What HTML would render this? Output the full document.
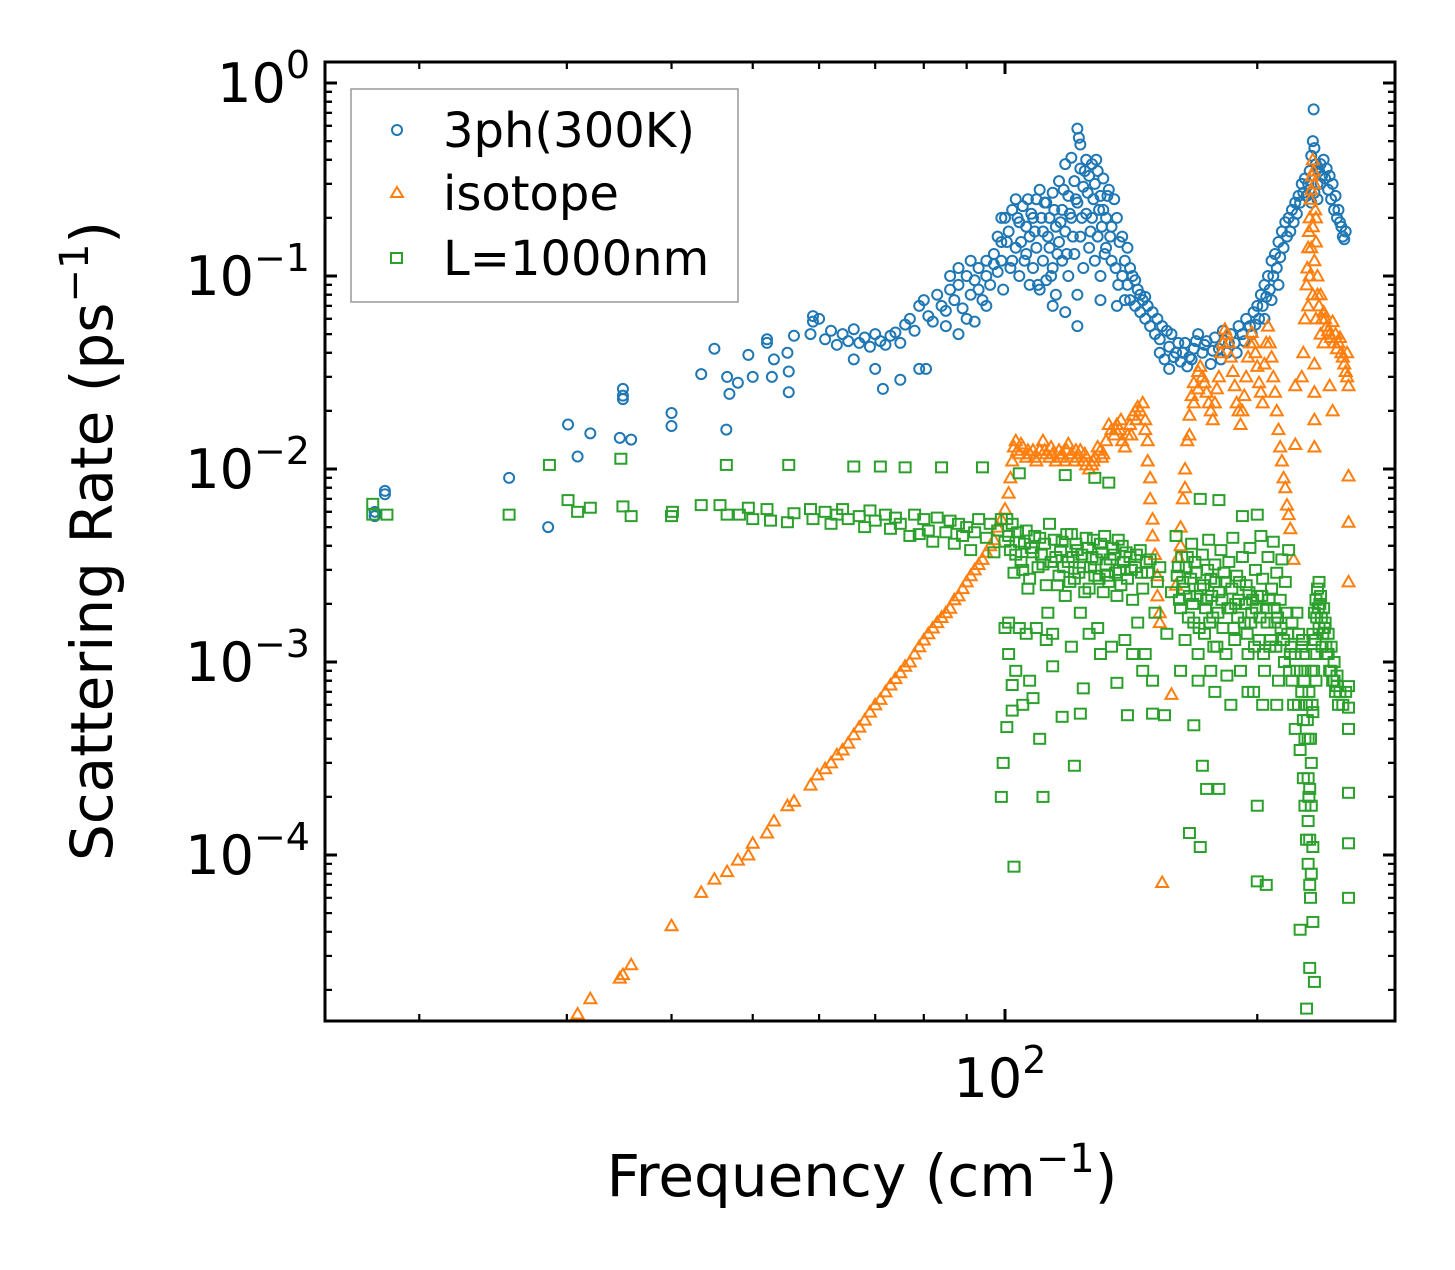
<!DOCTYPE html>
<html><head><meta charset="utf-8"><title>Scattering Rate vs Frequency</title>
<style>
html,body{margin:0;padding:0;background:#fff;}
svg{display:block;font-family:"DejaVu Sans","Liberation Sans",sans-serif;}
</style></head>
<body>
<svg id="chart" width="1455" height="1270" viewBox="0 0 1455 1270" xmlns="http://www.w3.org/2000/svg">
<rect x="0" y="0" width="1455" height="1270" fill="#fff"/>
<g id="marks"></g>
<g id="ticks"></g>
<rect x="325" y="62" width="1070" height="959" fill="none" stroke="#000" stroke-width="3"/>
<g id="ylabels" font-size="54" text-anchor="end" fill="#000"></g>
<text x="1000" y="1097" font-size="54" text-anchor="middle">10<tspan font-size="38" dy="-24">2</tspan></text>
<text x="862" y="1196" font-size="58" text-anchor="middle">Frequency (cm<tspan font-size="40" dy="-24">−1</tspan><tspan dy="24">)</tspan></text>
<text transform="translate(112,541) rotate(-90)" font-size="58" text-anchor="middle">Scattering Rate (ps<tspan font-size="40" dy="-24">−1</tspan><tspan dy="24">)</tspan></text>
<g>
<rect x="351" y="89" width="387" height="213" fill="#fff" fill-opacity="0.8" stroke="#999" stroke-width="1.5"/>
<circle cx="397" cy="130" r="5" fill="none" stroke="#1f77b4" stroke-width="2"/>
<text x="443" y="147" font-size="48">3ph(300K)</text>
<polygon points="397,187 403,197 391,197" fill="none" stroke="#ff7f0e" stroke-width="2"/>
<text x="443" y="210" font-size="48">isotope</text>
<rect x="391" y="253" width="11" height="10" fill="none" stroke="#2ca02c" stroke-width="2"/>
<text x="443" y="275" font-size="48">L=1000nm</text>
</g>
</svg>
<script>
// ---- data (frequency cm^-1, rate ps^-1) ----
const yTickExponents = [0, -1, -2, -3, -4];
const xMinorTicks = [20, 30, 40, 50, 60, 70, 80, 90, 200];
const xMajorTicks = [100];

const blue3ph = [
[17.7,0.006],[17.7,0.0057],[18.2,0.0077],[18.2,0.0074],[25.6,0.009],[28.5,0.005],
[30.1,0.017],[30.9,0.0116],[32,0.0153],[34.7,0.0145],[35,0.026],[35,0.024],[35,0.023],[35.8,0.0142],
[40,0.0195],[40,0.0167],[43.4,0.031],[45,0.042],[46.6,0.03],[46.9,0.0245],[46.5,0.016],[48,0.028],
[49.4,0.039],[50,0.03],[52,0.045],[52,0.047],[52.7,0.03],[53,0.037],[55,0.04],[55.2,0.032],[55.2,0.025],
[56,0.049],[58.6,0.05],[59,0.062],[59,0.058],
[61,0.047],[62,0.052],[63,0.044],[64,0.05],[65,0.046],[66,0.053],[67,0.045],[68,0.048],[69,0.043],[70,0.05],
[71,0.046],[72,0.044],[73,0.049],[74,0.051],[75,0.045],[76,0.056],[77,0.06],[78,0.052],[79,0.07],[80,0.075],
[81,0.062],[82,0.058],[83,0.08],[84,0.07],[85,0.066],[86,0.085],[87,0.075],[88,0.09],[89,0.068],[90,0.1],
[91,0.08],[92,0.095],[93,0.11],[94,0.075],[95,0.12],[96,0.09],[97,0.13],[98,0.105],[99,0.15],[99.5,0.085],
[66,0.037],[70,0.033],[71.5,0.026],[75,0.029],[79,0.033],[80.5,0.033],[60,0.06],[85,0.055],[90,0.06],[95,0.07],[88,0.05],[92,0.058],
[86,0.1],[88,0.11],[91,0.12],[93,0.085],[95,0.1],[97,0.115],[98,0.16],[99,0.2],[99,0.12],
[100,0.2],[101,0.17],[102,0.22],[102,0.12],[103,0.25],[103,0.14],[104,0.1],[104,0.19],[105,0.23],[106,0.13],
[106,0.18],[107,0.16],[107,0.09],[108,0.2],[108,0.11],[109,0.25],[109,0.14],[110,0.28],[110,0.085],[111,0.17],
[111,0.12],[112,0.24],[112,0.095],[113,0.2],[113,0.14],[114,0.27],[114,0.11],[115,0.18],[115,0.08],[116,0.31],
[116,0.15],[117,0.22],[117,0.12],[118,0.38],[118,0.17],[119,0.26],[119,0.1],[120,0.41],[120,0.2],[121,0.31],
[121,0.13],[122,0.58],[122.5,0.52],[123,0.48],[122,0.24],[122,0.08],[123,0.36],[123,0.16],[124,0.29],[124,0.11],
[125,0.4],[125,0.21],[126,0.33],[126,0.14],[127,0.38],[127,0.2],[128,0.3],[128,0.12],[129,0.35],[129,0.16],
[130,0.26],[130,0.1],[131,0.32],[131,0.22],[132,0.2],[132,0.14],[133,0.28],[134,0.18],[134,0.12],[135,0.25],
[136,0.2],[137,0.15],[138,0.16],[139,0.12],[140,0.14],[141,0.11],[142,0.1],[143,0.095],[144,0.085],[145,0.08],
[146,0.075],[147,0.078],[148,0.07],[150,0.065],[152,0.06],[154,0.055],[156,0.052],[158,0.05],[122,0.055],
[118,0.065],[114,0.07],[139,0.075],[136,0.07],[130,0.075],
[100.5,0.15],[101.5,0.11],[103.5,0.2],[104.5,0.15],[105.5,0.12],[106.5,0.25],[107.5,0.21],[108.5,0.17],[109.5,0.09],
[110.5,0.2],[111.5,0.24],[112.5,0.16],[113.5,0.1],[114.5,0.22],[115.5,0.13],[116.5,0.19],[117.5,0.28],[118.5,0.13],
[119.5,0.21],[120.5,0.16],[121.5,0.25],[123.5,0.2],[124.5,0.35],[125.5,0.27],[126.5,0.17],[127.5,0.25],[128.5,0.4],
[129.5,0.22],[130.5,0.18],[131.5,0.13],[132.5,0.26],[133.5,0.16],[135.5,0.11],[136.5,0.09],[138,0.1],[140,0.09],
[141,0.075],[143,0.07],[145,0.065],[147,0.06],[149,0.055],[151,0.05],[153,0.047],[157,0.043],[159,0.038],
[153,0.04],[155,0.037],[157,0.033],[160,0.04],[162,0.036],[164,0.045],[165,0.034],[166,0.038],[168,0.042],
[170,0.05],[172,0.04],[174,0.046],[176,0.035],[178,0.048],[180,0.042],[182,0.052],[184,0.04],[186,0.05],
[188,0.045],[190,0.055],[192,0.05],[194,0.06],[196,0.055],[198,0.065],[200,0.07],[202,0.08],[204,0.09],
[161,0.045],[163,0.04],[167,0.037],[169,0.046],[173,0.044],[177,0.041],[181,0.037],[185,0.045],[189,0.04],
[193,0.046],[197,0.05],[199,0.056],[201,0.06],[203,0.07],[205,0.078],[207,0.085],[209,0.1],[211,0.11],
[213,0.125],[215,0.14],[217,0.16],[219,0.17],[221,0.19],[223,0.21],[225,0.24],[227,0.27],[229,0.26],[231,0.28],
[204,0.06],[206,0.1],[208,0.12],[208,0.075],[210,0.13],[212,0.15],[212,0.09],[214,0.17],[216,0.19],[218,0.2],
[220,0.22],[222,0.24],[224,0.26],[226,0.3],[228,0.32],[230,0.3],[231,0.35],[232,0.42],[233,0.5],[233.5,0.73],
[234,0.46],[235,0.38],[236,0.3],[232,0.24],[234,0.27],[237,0.35],[238,0.38],[240,0.4],[242,0.36],[244,0.33],
[246,0.3],[248,0.26],[250,0.22],[252,0.18],[253,0.16],[238,0.3],[241,0.32],[245,0.25],[249,0.2],
[236,0.25],[239,0.33],[243,0.28],[247,0.22],[251,0.19],[254,0.155],[255,0.17],[236,0.36]
];

const orangeIsotope = [
[30.9,1.5e-5],[32,1.8e-5],[34.7,2.3e-5],[35,2.4e-5],[35.8,2.7e-5],[40,4.3e-5],[43.4,6.4e-5],[45,7.5e-5],
[46.6,8.2e-5],[48,9.4e-5],[49.4,1.0e-4],[50,1.15e-4],[52,1.3e-4],[53,1.5e-4],[55,1.8e-4],[56,1.9e-4],
[58.6,2.3e-4],[59.7,2.6e-4],
[61,0.00028],[62,0.0003],[63,0.00033],[64,0.00035],[65,0.00038],[66,0.00042],[67,0.00046],[68,0.0005],
[69,0.00055],[70,0.0006],[71,0.00064],[72,0.0007],[73,0.00076],[74,0.00082],[75,0.00088],[76,0.00095],
[77,0.001],[78,0.0011],[79,0.0012],[80,0.0013],[81,0.0014],[82,0.0015],[83,0.0016],[84,0.0017],[85,0.0018],
[86,0.0019],[87,0.0021],[88,0.0022],[89,0.0024],[90,0.0026],[91,0.0028],[92,0.003],[93,0.0032],[94,0.0034],
[95,0.0037],[96,0.004],[97,0.0043],[98,0.005],[99,0.0055],
[100,0.0062],[101,0.0075],[101.5,0.009],[102,0.011],[102.5,0.013],[103,0.014],[104,0.012],[105,0.013],
[106,0.0115],[107,0.012],[108,0.0125],[109,0.011],[110,0.0125],[111,0.014],[112,0.012],[113,0.0115],
[114,0.012],[115,0.011],[116,0.0125],[117,0.012],[118,0.011],[119,0.0135],[120,0.012],[121,0.011],
[122,0.0115],[123,0.0125],[124,0.011],[125,0.0105],[126,0.01],[127,0.0105],[128,0.0115],[129,0.013],
[130,0.0125],[131,0.012],[132,0.014],[133,0.017],[134,0.016],[135,0.015],[136,0.017],[137,0.016],
[138,0.014],[139,0.013],[140,0.015],[141,0.017],[142,0.019],[143,0.02],[144,0.021],[146,0.022],
[103.5,0.0125],[104.5,0.0135],[106.5,0.0125],[108.5,0.0115],[111.5,0.0125],[113.5,0.013],[116.5,0.0115],
[118.5,0.0125],[121.5,0.0125],[124.5,0.012],[127.5,0.011],[130.5,0.0115],[135.5,0.016],[137.5,0.018],
[141.5,0.015],[143.5,0.018],[145,0.02],[147,0.016],
[147,0.018],[148,0.014],[148,0.011],[149,0.009],[149,0.007],[150,0.0055],[150,0.0045],[151,0.0036],
[152,0.0028],[152,0.0022],[153,0.0018],[153,0.0016],[154,7.2e-5],[158,0.00068],
[160,0.0025],[161,0.0035],[162,0.005],[163,0.007],[164,0.01],[165,0.014],[166,0.019],[167,0.024],
[168,0.028],[170,0.032],[171,0.034],[173,0.028],[175,0.022],[177,0.018],[179,0.026],[181,0.04],[183,0.053],
[185,0.045],[187,0.032],[189,0.022],[191,0.017],[193,0.024],[195,0.038],[197,0.051],[199,0.04],
[201,0.028],[203,0.022],[204,0.035],[206,0.055],[207,0.045],[209,0.03],[211,0.02],[213,0.013],
[215,0.009],[217,0.0065],[219,0.0049],[221,0.0034],[222,0.027],[222,0.0134],
[162,0.004],[164,0.008],[166,0.015],[168,0.022],[170,0.026],[172,0.03],[174,0.025],[176,0.02],[178,0.022],
[180,0.03],[182,0.045],[184,0.05],[186,0.038],[188,0.027],[190,0.02],[192,0.02],[194,0.03],[196,0.045],
[198,0.045],[200,0.034],[202,0.025],[205,0.045],[208,0.038],[210,0.025],[212,0.016],[214,0.011],[216,0.008],[218,0.0058],
[226,0.03],[227,0.04],[228,0.06],[229,0.09],[230,0.14],[231,0.2],[232,0.28],[233,0.4],[234,0.3],
[235,0.2],[234,0.12],[233,0.08],[235,0.06],[234,0.035],[234,0.025],[234,0.018],[234,0.013],
[229.5,0.11],[230.5,0.17],[231.5,0.25],[232.5,0.33],[233.5,0.35],[234.5,0.22],[235,0.15],[233,0.18],[232,0.14],
[231,0.1],[230,0.07],[236,0.08],[237,0.07],[239,0.06],[241,0.06],[243,0.052],[245,0.048],[247,0.045],
[249,0.042],[251,0.048],[253,0.038],[255,0.032],[256,0.04],[238,0.05],[240,0.045],
[236,0.1],[238,0.08],[240,0.065],[242,0.055],[244,0.05],[246,0.058],[248,0.05],[250,0.045],
[252,0.04],[254,0.035],[256,0.03],[257,0.027],[244,0.027],[246,0.02],
[257,0.0092],[257,0.0053],[257,0.0026]
];

const greenBoundary = [
[17.6,0.0066],[17.6,0.0058],[18.3,0.0058],[25.6,0.0058],[28.6,0.0105],[30.1,0.0069],[30.9,0.006],[32,0.0063],
[34.8,0.0113],[35,0.0064],[35.8,0.0057],[40,0.0057],[40.1,0.006],[43.4,0.0065],[45.7,0.0065],[46.5,0.0105],
[46.6,0.0058],[48.2,0.0058],[49.4,0.0063],[50,0.0055],[52,0.0062],[52.5,0.0054],[55,0.0053],[55.2,0.0105],
[56,0.0059],[58.6,0.0062],[59,0.0055],
[61,0.006],[62,0.0052],[63,0.0058],[64,0.0062],[65,0.0055],[66,0.0103],[67,0.0057],[68,0.005],[69,0.0061],
[70,0.0054],[71,0.0103],[72,0.0058],[73,0.0049],[74,0.0056],[75,0.0052],[76,0.0102],[77,0.0045],[78,0.0058],
[79,0.0046],[80,0.0055],[81,0.0048],[82,0.0042],[83,0.0056],[84,0.0102],[85,0.0047],[86,0.0054],[87,0.0041],
[88,0.0052],[89,0.0045],[90,0.005],[91,0.0038],[92,0.0047],[93,0.0055],[94,0.0102],[95,0.0044],[96,0.0052],
[97,0.0037],[98,0.0048],[99,0.0055],[99,0.0002],[99.5,0.0003],
[100,0.0015],[100.5,0.00046],[101,0.0016],[102,0.00056],[102,0.00076],[102.5,8.7e-5],[101,0.0045],[102,0.0052],
[103,0.0036],[104,0.0042],[104,0.0095],[105,0.003],[106,0.0048],[107,0.0027],[108,0.0037],[108,0.00065],
[109,0.0015],[110,0.0044],[110,0.0004],[111,0.0002],[111,0.0032],[112,0.0025],[113,0.0052],[114,0.0014],
[115,0.0035],[116,0.0028],[117,0.0042],[118,0.0093],[118,0.0022],[119,0.0033],[120,0.0046],[121,0.00029],
[121,0.0027],[122,0.0038],[123,0.00054],[123,0.0018],[124,0.00073],[124,0.0031],[125,0.0044],[126,0.0024],
[127,0.0035],[128,0.009],[128,0.0028],[129,0.0015],[130,0.0041],[131,0.0023],[132,0.0032],[133,0.0085],
[133,0.0026],[134,0.0012],[135,0.0036],[136,0.00078],[136,0.0022],[137,0.003],[138,0.004],[139,0.0013],
[140,0.00053],[140,0.0027],[141,0.0035],[142,0.0021],[143,0.0031],[144,0.0016],[145,0.0038],[146,0.0024],
[147,0.0011],[148,0.0029],[149,0.0034],[150,0.00054],[150,0.0008],[151,0.0018],[152,0.0026],[153,0.0031],
[155,0.00053],[156,0.0014],[158,0.0023],
[100,0.0042],[100.5,0.0055],[101.5,0.0038],[102.5,0.0029],[103.5,0.0047],[104.5,0.0033],[105.5,0.0041],
[106.5,0.0024],[107.5,0.0039],[108.5,0.0045],[109.5,0.0031],[110.5,0.0036],[111.5,0.0041],[112.5,0.0018],
[113.5,0.0033],[114.5,0.0043],[115.5,0.0025],[116.5,0.0038],[117.5,0.0031],[118.5,0.0046],[119.5,0.0026],
[120.5,0.0035],[121.5,0.0041],[122.5,0.0029],[123.5,0.0036],[124.5,0.0023],[125.5,0.0039],[126.5,0.0031],
[127.5,0.0043],[128.5,0.0034],[129.5,0.0027],[130.5,0.0037],[131.5,0.0045],[132.5,0.0028],[133.5,0.0034],
[134.5,0.0039],[135.5,0.0029],[136.5,0.0043],[137.5,0.0025],[138.5,0.0033],[139.5,0.0037],[141.5,0.003],
[143.5,0.0036],[145.5,0.0029],[147.5,0.0033],[104,0.0015],[106,0.0014],[112,0.0013],[120,0.0012],[126,0.0014],
[101,0.0011],[103,0.0009],[105,0.0006],[107,0.0008],[114,0.00095],[117,0.00052],[130,0.0011],[142,0.0011],[146,0.0009],
[160,0.0045],[161,0.0031],[162,0.0019],[163,0.0026],[164,0.0013],[165,0.0035],[166,0.00013],[166,0.0022],
[167,0.0041],[168,0.00047],[168,0.0016],[169,0.0029],[170,0.0011],[171,0.007],[171,0.00011],[171,0.0024],
[172,0.00029],[172,0.0036],[173,0.0014],[174,0.00022],[174,0.0021],[175,0.0043],[176,0.0009],[176,0.0027],
[177,0.0017],[178,0.0032],[179,0.0012],[180,0.0069],[180,0.00022],[180,0.0023],[181,0.0038],[182,0.0015],
[183,0.0026],[184,0.00085],[185,0.0033],[186,0.0019],[187,0.0044],[188,0.0013],[189,0.0028],[190,0.0021],
[191,0.0009],[192,0.0057],[192,0.0035],[193,0.0016],[194,0.0025],[195,0.0011],[196,0.0039],[197,0.0018],
[198,0.0007],[199,0.003],[200,0.0058],[200,0.00018],[200,7.3e-5],[200,0.0022],[201,0.0013],[202,0.0045],
[203,0.0027],[204,0.0009],[205,7e-5],[205,0.0019],[206,0.0035],[207,0.0012],[208,0.0024],[209,0.0042],
[210,0.0016],[211,0.0029],[212,0.0008],[213,0.0021],[214,0.0034],[215,0.0013],[216,0.0026],[217,0.0018],
[218,0.0038],[219,0.0011],[220,0.0016],[220,0.0008],[221,0.0006],[222,0.0011],[222,0.00045],
[160.5,0.0028],[161.5,0.0021],[162.5,0.0035],[163.5,0.0024],[164.5,0.0031],[165.5,0.0017],[166.5,0.0027],
[167.5,0.002],[168.5,0.0033],[169.5,0.0022],[170.5,0.0015],[172.5,0.0025],[173.5,0.0019],[174.5,0.003],
[175.5,0.0016],[176.5,0.0022],[177.5,0.0012],[178.5,0.0026],[179.5,0.0018],[181.5,0.0021],[182.5,0.0029],
[183.5,0.0011],[184.5,0.0019],[186.5,0.0024],[187.5,0.0015],[188.5,0.002],[189.5,0.0017],[190.5,0.0026],
[193.5,0.002],[194.5,0.0014],[195.5,0.0023],[196.5,0.0016],[197.5,0.0021],[198.5,0.0012],[199.5,0.0019],
[201.5,0.0017],[202.5,0.0022],[203.5,0.0011],[205.5,0.0016],[206.5,0.0021],[207.5,0.0013],[209.5,0.0019],
[210.5,0.0012],[211.5,0.0017],[213.5,0.0015],[215.5,0.001],[217.5,0.0014],[218.5,0.0009],[219.5,0.0012],
[162,0.0009],[170,0.0008],[178,0.0007],[186,0.0006],[195,0.0007],[203,0.0006],[211,0.0006],
[223,0.0018],[223,0.0009],[224,0.0014],[224,0.0006],[225,0.00035],[225,4.1e-5],[226,0.0012],[226,0.0007],
[227,0.0005],[227,0.00025],[228,0.0009],[228,0.00018],[229,0.0006],[229,0.00012],[229,1.6e-5],[230,0.0004],
[230,9e-5],[230,0.00015],[231,0.00007],[231,2.6e-5],[231,0.00022],[232,0.0003],[232,0.0009],[233,4.5e-5],
[233,0.0014],[233,0.00055],[234,2.2e-5],[234,0.0018],[234,0.0011],[235,0.0021],[235,0.0008],[236,0.0024],
[237,0.0026],[237,0.0015],[238,0.0022],[239,0.0012],[240,0.0019],[241,0.0016],[242,0.0011],[243,0.0014],
[244,0.0009],[245,0.0012],[246,0.0008],[247,0.001],[248,0.0007],[249,0.00085],[250,0.0006],
[226.5,0.0013],[227.5,0.0008],[228.5,0.0011],[229.5,0.0005],[230.5,0.0007],[231.5,0.0004],[232.5,0.0006],
[233.5,0.0009],[234.5,0.0013],[235.5,0.0017],[236.5,0.0019],[237.5,0.002],[238.5,0.0017],[239.5,0.0014],
[240.5,0.0015],[241.5,0.0012],[243,0.0011],[245,0.0009],[247,0.0008],[249,0.00075],[251,0.0007],[253,0.0006],
[255,0.0007],[228,0.0004],[230,0.00025],[231,0.00012],[232,8e-5],[232,0.00018],[233,0.00011],[231.5,6e-5],[230.5,0.0002],
[257,0.00075],[257,0.00058],[257,0.00045],[257,0.00021],[257,0.000115],[257,6e-5]
];

// ---- axis functions ----
function xScale(f){ return 1005 + (Math.log10(f) - 2) * 838; }
function yScale(r){ return 83 - Math.log10(r) * 193; }

const NS = 'http://www.w3.org/2000/svg';
const marks = document.getElementById('marks');
const ticks = document.getElementById('ticks');
const ylabels = document.getElementById('ylabels');

function inPlot(x,y){ return x>=320 && x<=1400 && y>=57 && y<=1026; }

const gB = document.createElementNS(NS,'g');


marks.appendChild(gB);
blue3ph.forEach(function(p){
  const x = xScale(p[0]), y = yScale(p[1]);
  if(!inPlot(x,y)) return;
  const c = document.createElementNS(NS,'circle');
  
  
  c.setAttribute('cx', x); c.setAttribute('cy', y); c.setAttribute('r', 5);
  c.setAttribute('fill','none'); c.setAttribute('stroke','#1f77b4'); c.setAttribute('stroke-width','2');
  gB.appendChild(c);
});

const gO = document.createElementNS(NS,'g');


marks.appendChild(gO);
orangeIsotope.forEach(function(p){
  const x = xScale(p[0]), y = yScale(p[1]);
  if(!inPlot(x,y)) return;
  const t = document.createElementNS(NS,'polygon');
  
  
  t.setAttribute('points', x+','+(y-6)+' '+(x+6)+','+(y+4.5)+' '+(x-6)+','+(y+4.5));
  t.setAttribute('fill','none'); t.setAttribute('stroke','#ff7f0e'); t.setAttribute('stroke-width','2');
  gO.appendChild(t);
});

const gG = document.createElementNS(NS,'g');


marks.appendChild(gG);
greenBoundary.forEach(function(p){
  const x = xScale(p[0]), y = yScale(p[1]);
  if(!inPlot(x,y)) return;
  const s = document.createElementNS(NS,'rect');
  
  
  s.setAttribute('x', x-5.5); s.setAttribute('y', y-5); s.setAttribute('width', 11); s.setAttribute('height', 10);
  s.setAttribute('fill','none'); s.setAttribute('stroke','#2ca02c'); s.setAttribute('stroke-width','2');
  gG.appendChild(s);
});

function tickLine(x1,y1,x2,y2,w){
  const l = document.createElementNS(NS,'line');
  
  
  l.setAttribute('x1',x1); l.setAttribute('y1',y1); l.setAttribute('x2',x2); l.setAttribute('y2',y2);
  l.setAttribute('stroke','#000'); l.setAttribute('stroke-width', w);
  ticks.appendChild(l);
}
xMajorTicks.forEach(function(f){ const x=xScale(f); tickLine(x,1021,x,1009,3); tickLine(x,62,x,74,3); });
xMinorTicks.forEach(function(f){ const x=xScale(f); tickLine(x,1021,x,1014,2.2); tickLine(x,62,x,69,2.2); });
yTickExponents.forEach(function(e){
  const y = yScale(Math.pow(10,e));
  tickLine(325,y,337,y,3); tickLine(1395,y,1383,y,3);
  const t = document.createElementNS(NS,'text');
  
  
  t.setAttribute('x', 310); t.setAttribute('y', y+19);
  t.textContent = '10';
  const sup = document.createElementNS(NS,'tspan');
  sup.setAttribute('font-size','38'); sup.setAttribute('dy','-24');
  sup.textContent = e===0 ? '0' : '−'+(-e);
  t.appendChild(sup);
  ylabels.appendChild(t);
  for(let m=2;m<=9;m++){
    const ym = yScale(m*Math.pow(10,e-1));
    if(ym>1021||ym<62) continue;
    tickLine(325,ym,332,ym,2.2); tickLine(1395,ym,1388,ym,2.2);
  }
  for(let m=2;m<=9;m++){
    const ym = yScale(m*Math.pow(10,e));
    if(ym>1021||ym<62) continue;
    tickLine(325,ym,332,ym,2.2); tickLine(1395,ym,1388,ym,2.2);
  }
});
</script>
</body></html>
